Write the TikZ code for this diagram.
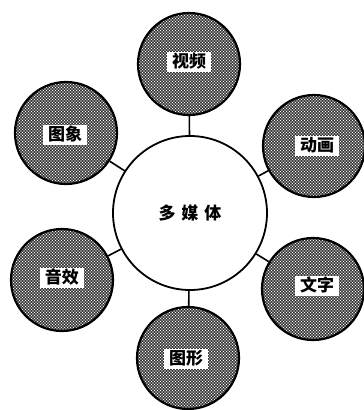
\documentclass[tikz,border=0pt]{standalone}
\usepackage{fontspec}
\newfontfamily\cjk{Noto Sans CJK SC}
\usetikzlibrary{patterns}
\pgfdeclarepatternformonly{densedots}{\pgfpoint{-1pt}{-1pt}}{\pgfpoint{4pt}{4pt}}{\pgfpoint{3pt}{3pt}}{%
  \pgfpathcircle{\pgfpoint{0pt}{0pt}}{.8pt}%
  \pgfpathcircle{\pgfpoint{1.5pt}{1.5pt}}{.8pt}%
  \pgfusepath{fill}}
\begin{document}
\begin{tikzpicture}[x=1pt,y=-1pt,
  sat/.style={circle, draw=black, line width=2.2pt, minimum size=102pt, inner sep=0pt,
    preaction={fill=black}, pattern=densedots, pattern color=white},
  lab/.style={fill=white, inner xsep=5pt, inner ysep=2pt, text height=13pt, text depth=3pt,
    font=\cjk\bfseries\fontsize{17}{17}\selectfont},
  hub/.style={circle, draw=black, line width=1.8pt, fill=white, minimum size=154pt, inner sep=0pt,
    font=\cjk\bfseries\fontsize{17}{17}\selectfont},
  link/.style={line width=1.6pt}]
\useasboundingbox (0,0) rectangle (364,410);
\node[hub] (c) at (190,213) {多\hspace{6pt}媒\hspace{6pt}体};
\node[sat] (sp) at (189,64) {};
\node[sat] (tx) at (66,133) {};
\node[sat] (dh) at (314,146) {};
\node[sat] (yx) at (62,280) {};
\node[sat] (wz) at (313,289) {};
\node[sat] (tu) at (188,358) {};
\node[lab] (spl) at (189,62) {视频};
\node[lab] (txl) at (65,135) {图象};
\node[lab] (dhl) at (317,146) {动画};
\node[lab] (yxl) at (62,278) {音效};
\node[lab] (wzl) at (317,286) {文字};
\node[lab] (tul) at (186,359) {图形};
\foreach \s in {sp,tx,dh,yx,wz,tu} \draw[link] (c) -- (\s);
\end{tikzpicture}
\end{document}
